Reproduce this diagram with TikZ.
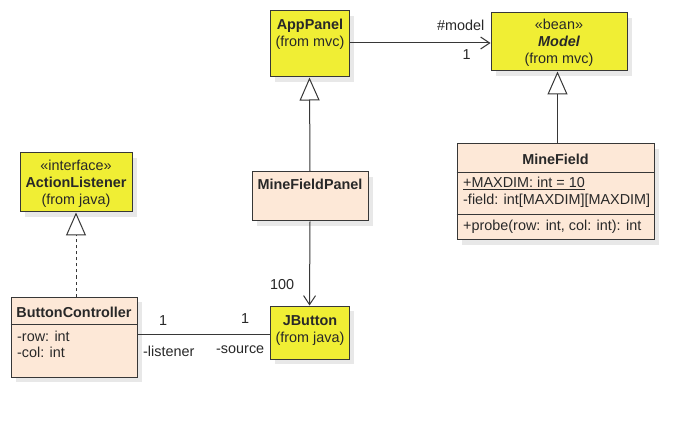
\documentclass[tikz,border=0pt]{standalone}
\usepackage{fontspec}
\setmainfont{Liberation Sans}
\usetikzlibrary{arrows.meta,shadows}
\definecolor{umlyellow}{RGB}{240,238,52}
\definecolor{umlpeach}{RGB}{253,232,215}
\definecolor{umlline}{RGB}{55,55,55}
\definecolor{umltext}{RGB}{40,40,40}
\begin{document}
\begin{tikzpicture}[x=1pt,y=-1pt,
  font=\fontsize{14.4}{17}\selectfont,
  every node/.style={text=umltext},
  umlbox/.style={draw=umlline, line width=1pt, inner sep=0pt,
    general shadow={fill=black!9, shadow xshift=5pt, shadow yshift=-5pt}},
  ybox/.style={umlbox, fill=umlyellow},
  pbox/.style={umlbox, fill=umlpeach},
  txt/.style={anchor=base, inner sep=0pt},
  ltxt/.style={anchor=base west, inner sep=0pt},
  conn/.style={draw=umlline, line width=1pt},
  gen/.style={conn, -{Triangle[open, length=23pt, width=20pt, fill=white, line width=1pt]}},
  nav/.style={conn, -{Straight Barb[length=9pt, width=12pt, line width=1pt]}},
  realize/.style={gen, dash pattern=on 3pt off 3pt}
]
\useasboundingbox[fill=white] (0,0) rectangle (699,422);

% boxes
\node[ybox, minimum width=79pt, minimum height=66pt] (app) at (309.5,44) {};
\node[ybox, minimum width=136pt, minimum height=58pt] (model) at (559,42) {};
\node[pbox, minimum width=197pt, minimum height=96pt] (mf) at (555.5,192) {};
\node[ybox, minimum width=112pt, minimum height=59pt] (al) at (76,182.5) {};
\node[pbox, minimum width=126pt, minimum height=80pt] (bc) at (74,337) {};
\node[ybox, minimum width=79pt, minimum height=53pt] (jb) at (309.5,332.5) {};
\node[pbox, minimum width=116pt, minimum height=49pt] (mfp) at (310,196.5) {};
\coordinate (gx) at (557.5,0);

% compartments
\draw[conn] (mf.west |- 0,173) -- (mf.east |- 0,173);
\draw[conn] (mf.west |- 0,215) -- (mf.east |- 0,215);
\draw[conn] (bc.west |- 0,324) -- (bc.east |- 0,324);

% texts
\node[txt] (appN) at (310,30) {\bfseries AppPanel};
\node[txt] (appF) at (310,47) {(from mvc)};
\node[txt] (modS) at (559,30) {«bean»};
\node[txt] (modN) at (559,47) {\bfseries\itshape Model};
\node[txt] (modF) at (559,63.5) {(from mvc)};
\node[txt] (alS) at (76,171) {«interface»};
\node[txt] (alN) at (76,188) {\bfseries ActionListener};
\node[txt] (alF) at (76,204.5) {(from java)};
\node[txt] (jbN) at (310,325) {\bfseries JButton};
\node[txt] (jbF) at (310,342) {(from java)};
\node[txt] (mfpN) at (310,190) {\bfseries MineFieldPanel};
\node[txt] (mfN) at (555.5,165) {\bfseries MineField};
\node[ltxt] (mfA1) at (463,188) {\underline{+MAXDIM: int = 10}};
\node[ltxt] (mfA2) at (463,204.5) {-field: int[MAXDIM][MAXDIM]};
\node[ltxt] (mfM1) at (463,230.5) {+probe(row: int, col: int): int};
\node[txt] (bcN) at (74,317) {\bfseries ButtonController};
\node[ltxt] (bcA1) at (17,341) {-row: int};
\node[ltxt] (bcA2) at (17,357.5) {-col: int};

% connectors
\draw[nav] (app.east |- 0,43) -- (model.west |- 0,43);
\draw[gen] (mfp.north) -- (app.south);
\draw[gen] (mf.north -| gx) -- (model.south -| gx);
\draw[realize] (bc.north -| al.south) -- (al.south);
\draw[nav] (mfp.south) -- (jb.north);
\draw[conn] (bc.east |- 0,334) -- (jb.west |- 0,334);

% labels
\node[ltxt] (lmodel) at (437,31) {\#model};
\node[ltxt] (lone1) at (462.5,60) {1};
\node[ltxt] (l100) at (270,290) {100};
\node[ltxt] (lone2) at (159,325) {1};
\node[ltxt] (lone3) at (241,323) {1};
\node[ltxt] (llist) at (143,356) {-listener};
\node[ltxt] (lsrc) at (216,353) {-source};
\end{tikzpicture}
\end{document}
